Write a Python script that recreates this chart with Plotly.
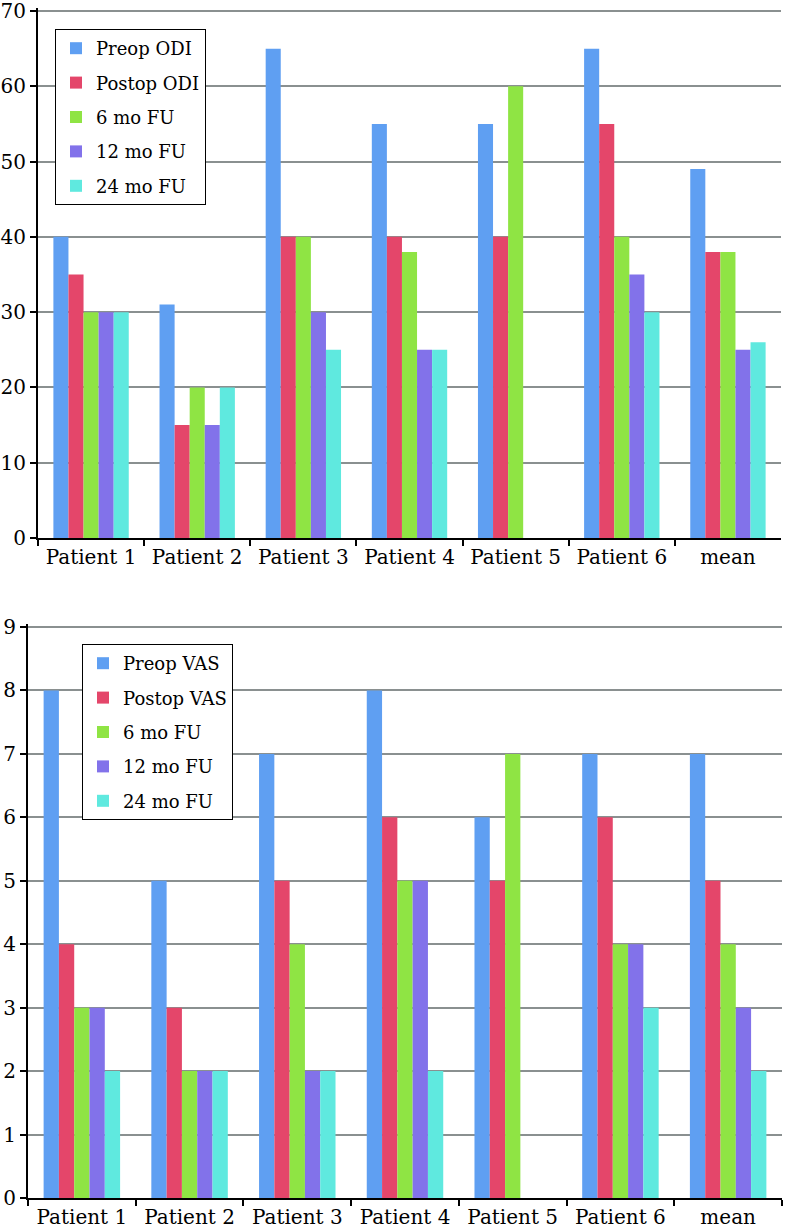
import plotly.graph_objects as go

categories = ["Patient 1", "Patient 2", "Patient 3", "Patient 4", "Patient 5", "Patient 6", "mean"]

odi_names = ["Preop ODI", "Postop ODI", "6 mo FU", "12 mo FU", "24 mo FU"]
odi_preop = [40, 31, 65, 55, 55, 65, 49]
odi_postop = [35, 15, 40, 40, 40, 55, 38]
odi_6mo = [30, 20, 40, 38, 60, 40, 38]
odi_12mo = [30, 15, 30, 25, None, 35, 25]
odi_24mo = [30, 20, 25, 25, None, 30, 26]

vas_names = ["Preop VAS", "Postop VAS", "6 mo FU", "12 mo FU", "24 mo FU"]
vas_preop = [8, 5, 7, 8, 6, 7, 7]
vas_postop = [4, 3, 5, 6, 5, 6, 5]
vas_6mo = [3, 2, 4, 5, 7, 4, 4]
vas_12mo = [3, 2, 2, 5, None, 4, 3]
vas_24mo = [2, 2, 2, 2, None, 3, 2]

colors = ["#5f9ff2", "#e4466a", "#8fe444", "#8272ea", "#5fe9df"]

W, H = 786, 1231
FONT = "DejaVu Serif"

fig = go.Figure()

odi_series = [odi_preop, odi_postop, odi_6mo, odi_12mo, odi_24mo]
vas_series = [vas_preop, vas_postop, vas_6mo, vas_12mo, vas_24mo]

for i, (name, vals) in enumerate(zip(odi_names, odi_series)):
    fig.add_trace(go.Bar(x=categories, y=vals, name=name, marker_color=colors[i],
                         marker_line_width=0, xaxis="x", yaxis="y",
                         legend="legend", legendgroup="a%d" % i))
for i, (name, vals) in enumerate(zip(vas_names, vas_series)):
    fig.add_trace(go.Bar(x=categories, y=vals, name=name, marker_color=colors[i],
                         marker_line_width=0, xaxis="x2", yaxis="y2",
                         legend="legend2", legendgroup="b%d" % i))

def px_x(p):
    return p / W

def px_y(p):
    return 1 - p / H

axis_common = dict(
    showline=True, linecolor="black", linewidth=2,
    ticks="outside", tickcolor="black", tickwidth=2, ticklen=6,
    tickfont=dict(family=FONT, size=20, color="black"),
    automargin=False,
)

legend_common = dict(
    xanchor="left", yanchor="top",
    bgcolor="white", bordercolor="black", borderwidth=1,
    font=dict(family=FONT, size=18, color="black"),
    tracegroupgap=8, traceorder="grouped",
)

TOP_Y70 = 11
top_ppu = (538 - TOP_Y70) / 70.0
bot_ppu = (1198 - 627) / 9.0

fig.update_layout(
    width=W, height=H,
    margin=dict(l=0, r=0, t=0, b=0),
    paper_bgcolor="white", plot_bgcolor="white",
    barmode="group", bargap=0.29, bargroupgap=0,
    xaxis=dict(domain=[px_x(38), px_x(781)], anchor="y", tickson="boundaries",
               showgrid=False, **axis_common),
    yaxis=dict(domain=[px_y(538), px_y(TOP_Y70 - 0.4 * top_ppu)], anchor="x", range=[0, 70.4],
               tickvals=[0, 10, 20, 30, 40, 50, 60, 70], ticklabeloverflow="allow",
               showgrid=True, gridcolor="#8a9090", gridwidth=2, zeroline=False,
               **axis_common),
    xaxis2=dict(domain=[px_x(28), px_x(782)], anchor="y2", tickson="boundaries",
                showgrid=False, **axis_common),
    yaxis2=dict(domain=[px_y(1198), px_y(627 - 0.05 * bot_ppu)], anchor="x2", range=[0, 9.05],
                tickvals=[0, 1, 2, 3, 4, 5, 6, 7, 8, 9], ticklabeloverflow="allow",
                showgrid=True, gridcolor="#8a9090", gridwidth=2, zeroline=False,
                **axis_common),
    legend=dict(x=px_x(55), y=px_y(29), **legend_common),
    legend2=dict(x=px_x(82), y=px_y(644), **legend_common),
)

fig.write_html("out.html", config={"displayModeBar": False},
               post_script="document.body.style.margin='0';document.body.style.overflow='hidden';")
